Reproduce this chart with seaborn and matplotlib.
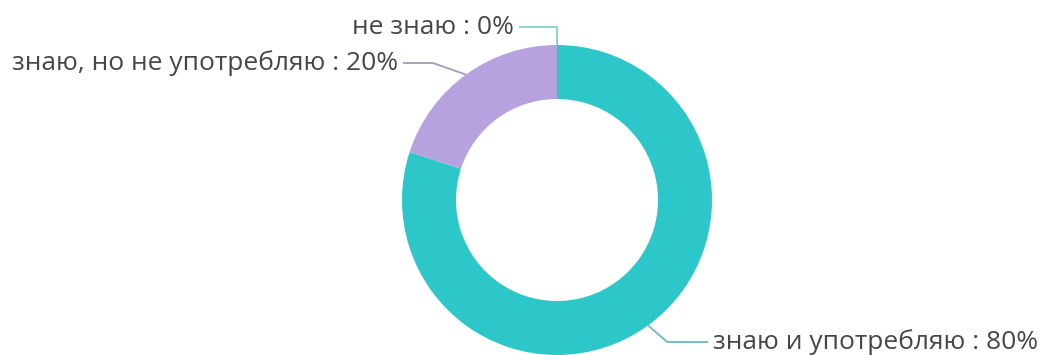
import numpy as np
import matplotlib
matplotlib.use("Agg")
import matplotlib.pyplot as plt
import seaborn as sns

# Survey answers and their shares (%)
categories = ["знаю и употребляю", "знаю, но не употребляю", "не знаю"]
shares = [80, 20, 0]
colors = ["#2ec7c9", "#b6a2de", "#5ab1ef"]

sns.set_theme(style="white")
plt.rcParams["font.family"] = ["Open Sans", "DejaVu Sans"]

W, H = 1044, 355
fig = plt.figure(figsize=(W / 100, H / 100), dpi=100)
ax = fig.add_axes([0, 0, 1, 1])

# Data units equal pixels, donut centre at the origin
cx, cy = 557, 200
R, ring = 155, 54

wedges, _ = ax.pie(shares, colors=colors, radius=R, startangle=90,
                   counterclock=False,
                   wedgeprops=dict(width=ring, linewidth=0))
ax.set_xlim(-cx, W - cx)
ax.set_ylim(-(H - cy), cy)
ax.set_aspect("equal")
ax.axis("off")

# Leader-line layout: label row height, outward step to the elbow,
# horizontal run up to the text
label_y = [-142, 137, 173]
elbow_dx = [19, 33, 0]
run_len = [41, 30, 38]
line_colors = ["#6bbcbe", "#a49cba", "#86cfd0"]

total = float(sum(shares))
start = 90.0
for i, (name, val) in enumerate(zip(categories, shares)):
    sweep = 360.0 * val / total
    mid = np.deg2rad(start - sweep / 2)
    start -= sweep
    x0, y0 = R * np.cos(mid), R * np.sin(mid)
    side = 1 if np.cos(mid) > 1e-6 else -1
    ly = label_y[i]
    x1 = x0 + side * elbow_dx[i]
    x2 = x1 + side * run_len[i]
    ax.plot([x0, x1, x2], [y0, ly, ly], color=line_colors[i], lw=1.3,
            solid_capstyle="butt", solid_joinstyle="round", zorder=1)
    ax.text(x2 + side * 5, ly, f"{name} : {val}%",
            ha="left" if side > 0 else "right",
            va="center", fontsize=19, color="#474747")

fig.savefig("out.png", dpi=100)
